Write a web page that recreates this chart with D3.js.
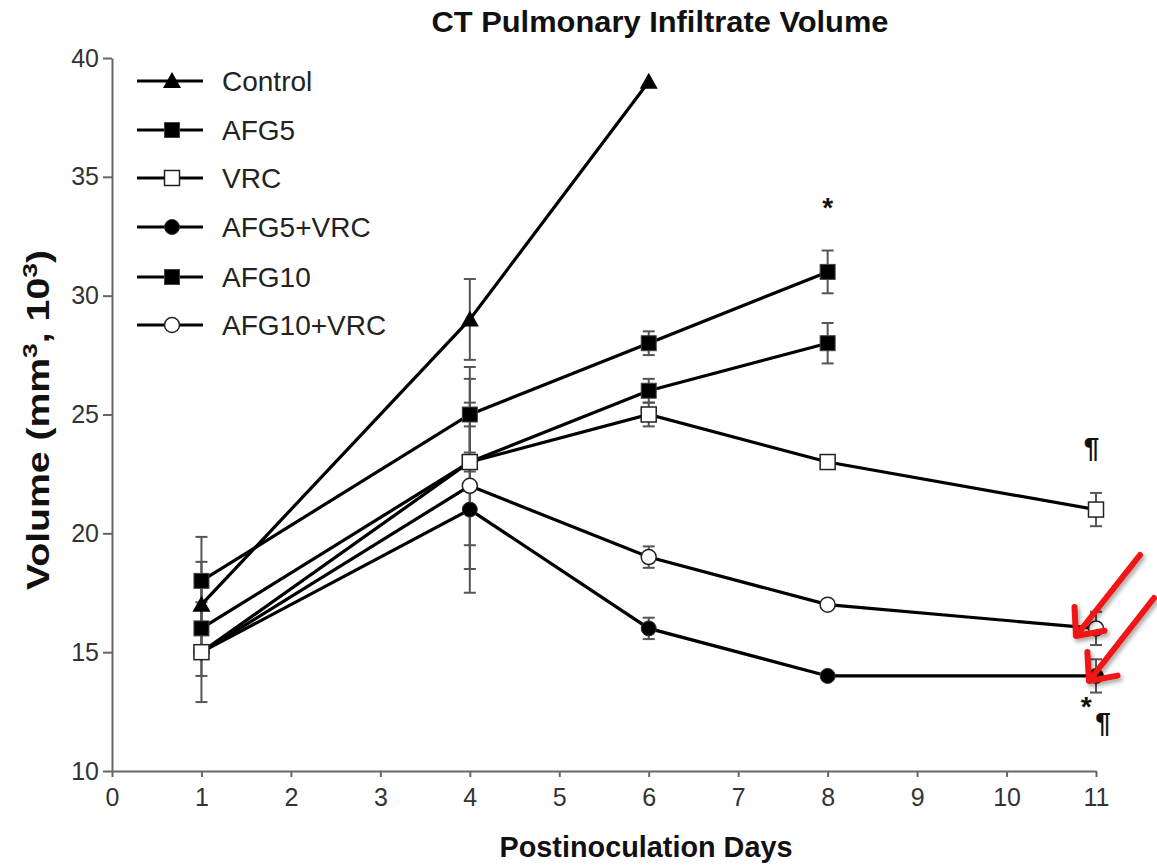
<!DOCTYPE html>
<html>
<head>
<meta charset="utf-8">
<script src="https://cdn.jsdelivr.net/npm/d3@7"></script>
<style>
  html, body { margin: 0; padding: 0; background: #fff; }
  svg { display: block; }
  text { font-family: "Liberation Sans", Arial, Helvetica, sans-serif; }
</style>
</head>
<body>
<svg id="chart" width="1157" height="865"></svg>
<script>
// ---------- data ----------
const days = [1, 4, 6, 8, 11];
const seriesNames = ["Control", "AFG5", "VRC", "AFG5+VRC", "AFG10", "AFG10+VRC"];
const markerTypes = ["triangle", "squareFilled", "squareOpen", "circleFilled", "squareFilled", "circleOpen"];
const markerDrawOrder = [5, 3, 4, 1, 0, 2];

const controlValues   = [17, 29, 39, null, null];
const afg5Values      = [16, 23, 26, 28, null];
const vrcValues       = [15, 23, 25, 23, 21];
const afg5vrcValues   = [15, 21, 16, 14, 14];
const afg10Values     = [18, 25, 28, 31, null];
const afg10vrcValues  = [15, 22, 19, 17, 16];

const controlErr  = [1.8, 1.7, 0, null, null];
const afg5Err     = [2.0, 3.5, 0.5, 0.85, null];
const vrcErr      = [2.1, 0.4, 0.5, 0.2, 0.7];
const afg5vrcErr  = [0, 3.5, 0.45, 0.15, 0.7];
const afg10Err    = [1.85, 2.0, 0.5, 0.9, null];
const afg10vrcErr = [0, 3.5, 0.45, 0.15, 0.7];

const xTicks = [0, 1, 2, 3, 4, 5, 6, 7, 8, 9, 10, 11];
const yTicks = [10, 15, 20, 25, 30, 35, 40];

const annotations = [
  { day: 8, value: 33.3, label: "*" },
  { day: 10.95, value: 23.2, label: "¶" },
  { day: 10.89, value: 12.3, label: "*" },
  { day: 11.08, value: 11.65, label: "¶" }
];

const allValues = [controlValues, afg5Values, vrcValues, afg5vrcValues, afg10Values, afg10vrcValues];
const allErrs = [controlErr, afg5Err, vrcErr, afg5vrcErr, afg10Err, afg10vrcErr];

const series = seriesNames.map((name, i) => ({
  name, marker: markerTypes[i],
  points: days.map((d, j) => ({ day: d, v: allValues[i][j], e: allErrs[i][j] })).filter(p => p.v != null)
}));

// ---------- layout ----------
const svg = d3.select("#chart");
const x = d3.scaleLinear().domain([0, 11]).range([112, 1096]);
const y = d3.scaleLinear().domain([10, 40]).range([771, 58]);
const axisColor = "#666";

// axes
const yAxis = svg.append("g").attr("transform", `translate(${x(0)},0)`)
  .call(d3.axisLeft(y).tickValues(yTicks).tickSize(9).tickPadding(4).tickSizeOuter(0));
yAxis.select(".domain").attr("stroke", axisColor).attr("stroke-width", 2);
yAxis.selectAll(".tick line").attr("stroke", axisColor).attr("stroke-width", 2);
yAxis.selectAll(".tick text").attr("font-size", 25).attr("fill", "#333")
  .attr("font-family", "Liberation Sans, Arial, sans-serif");

const xAxis = svg.append("g").attr("transform", `translate(0,${y(10)})`)
  .call(d3.axisBottom(x).tickValues(xTicks).tickSize(6).tickPadding(11).tickSizeOuter(0));
xAxis.select(".domain").attr("stroke", axisColor).attr("stroke-width", 2);
xAxis.selectAll(".tick line").attr("stroke", axisColor).attr("stroke-width", 2);
xAxis.selectAll(".tick text").attr("font-size", 25).attr("fill", "#333")
  .attr("font-family", "Liberation Sans, Arial, sans-serif");

// error bars
const capW = 6;
const eb = svg.append("g").attr("stroke", "#555").attr("stroke-width", 2).attr("fill", "none");
series.forEach(s => {
  s.points.forEach(p => {
    if (!p.e) return;
    const cx = x(p.day), y1 = y(p.v + p.e), y2 = y(p.v - p.e);
    eb.append("line").attr("x1", cx).attr("x2", cx).attr("y1", y1).attr("y2", y2);
    eb.append("line").attr("x1", cx - capW).attr("x2", cx + capW).attr("y1", y1).attr("y2", y1);
    eb.append("line").attr("x1", cx - capW).attr("x2", cx + capW).attr("y1", y2).attr("y2", y2);
  });
});

// lines
const line = d3.line().x(p => x(p.day)).y(p => y(p.v));
svg.append("g").selectAll("path").data(series).join("path")
  .attr("d", s => line(s.points))
  .attr("fill", "none").attr("stroke", "#000").attr("stroke-width", 3.2);

// markers
function drawMarker(g, type, cx, cy) {
  const s = 15;
  if (type === "triangle") {
    g.append("path").attr("d", `M${cx},${cy - 9}L${cx + 9},${cy + 7}L${cx - 9},${cy + 7}Z`).attr("fill", "#000");
  } else if (type === "squareFilled") {
    g.append("rect").attr("x", cx - s / 2).attr("y", cy - s / 2).attr("width", s).attr("height", s)
      .attr("fill", "#000").attr("stroke", "#444").attr("stroke-width", 1);
  } else if (type === "squareOpen") {
    g.append("rect").attr("x", cx - s / 2).attr("y", cy - s / 2).attr("width", s).attr("height", s)
      .attr("fill", "#fff").attr("stroke", "#222").attr("stroke-width", 1.5);
  } else if (type === "circleFilled") {
    g.append("circle").attr("cx", cx).attr("cy", cy).attr("r", 7.5).attr("fill", "#000").attr("stroke", "#333");
  } else if (type === "circleOpen") {
    g.append("circle").attr("cx", cx).attr("cy", cy).attr("r", 7.5).attr("fill", "#fff").attr("stroke", "#222").attr("stroke-width", 1.5);
  }
}
const mg = svg.append("g");
markerDrawOrder.forEach(i => {
  const s = series[i];
  s.points.forEach(p => drawMarker(mg, s.marker, x(p.day), y(p.v)));
});

// legend
const legendRows = [81, 130, 178, 227, 277, 325];
const lg = svg.append("g");
series.forEach((s, i) => {
  const ly = legendRows[i];
  lg.append("line").attr("x1", 137).attr("x2", 203).attr("y1", ly).attr("y2", ly)
    .attr("stroke", "#000").attr("stroke-width", 3.2);
  drawMarker(lg, s.marker, 172, ly);
  lg.append("text").attr("x", 222).attr("y", ly + 10).attr("font-size", 28).attr("fill", "#222").text(s.name);
});

// annotations
svg.append("g").selectAll("text").data(annotations).join("text")
  .attr("x", a => x(a.day)).attr("y", a => y(a.value))
  .attr("text-anchor", "middle").attr("font-size", 28).attr("font-weight", "bold")
  .attr("fill", "#111").text(a => a.label);

// titles
svg.append("text").attr("x", 660).attr("y", 32).attr("text-anchor", "middle")
  .attr("font-size", 29).attr("font-weight", "bold").attr("fill", "#111")
  .attr("textLength", 457).attr("lengthAdjust", "spacingAndGlyphs")
  .text("CT Pulmonary Infiltrate Volume");

svg.append("text").attr("x", 646).attr("y", 857).attr("text-anchor", "middle")
  .attr("font-size", 29).attr("font-weight", "bold").attr("fill", "#111")
  .attr("textLength", 293).attr("lengthAdjust", "spacingAndGlyphs")
  .text("Postinoculation Days");

const yl = svg.append("text").attr("transform", "translate(49,420) rotate(-90)")
  .attr("text-anchor", "middle").attr("font-size", 31).attr("font-weight", "bold").attr("fill", "#111")
  .attr("textLength", 340).attr("lengthAdjust", "spacingAndGlyphs");
yl.append("tspan").text("Volume (mm");
yl.append("tspan").attr("dy", -12).attr("font-size", 21).text("3");
yl.append("tspan").attr("dy", 12).text(",  10");
yl.append("tspan").attr("dy", -12).attr("font-size", 21).text("3");
yl.append("tspan").attr("dy", 12).text(")");

// red arrows
const defs = svg.append("defs");
const f = defs.append("filter").attr("id", "shadow").attr("x", "-50%").attr("y", "-50%").attr("width", "200%").attr("height", "200%");
f.append("feDropShadow").attr("dx", 2).attr("dy", 3).attr("stdDeviation", 2).attr("flood-color", "#000").attr("flood-opacity", 0.35);

const arrows = [
  { x1: 1140, y1: 555, x2: 1076, y2: 636 },
  { x1: 1154, y1: 598, x2: 1089, y2: 681 }
];
const ag = svg.append("g").attr("filter", "url(#shadow)");
arrows.forEach(a => {
  const ang = Math.atan2(a.y1 - a.y2, a.x1 - a.x2);
  const L = 29, spread = 0.72;
  const p1 = [a.x2 + L * Math.cos(ang + spread), a.y2 + L * Math.sin(ang + spread)];
  const p2 = [a.x2 + L * Math.cos(ang - spread), a.y2 + L * Math.sin(ang - spread)];
  ag.append("path")
    .attr("d", `M${a.x1},${a.y1}L${a.x2},${a.y2}M${p1[0]},${p1[1]}L${a.x2},${a.y2}L${p2[0]},${p2[1]}`)
    .attr("fill", "none").attr("stroke", "#f01414").attr("stroke-width", 6)
    .attr("stroke-linecap", "round").attr("stroke-linejoin", "round");
});
</script>
</body>
</html>
